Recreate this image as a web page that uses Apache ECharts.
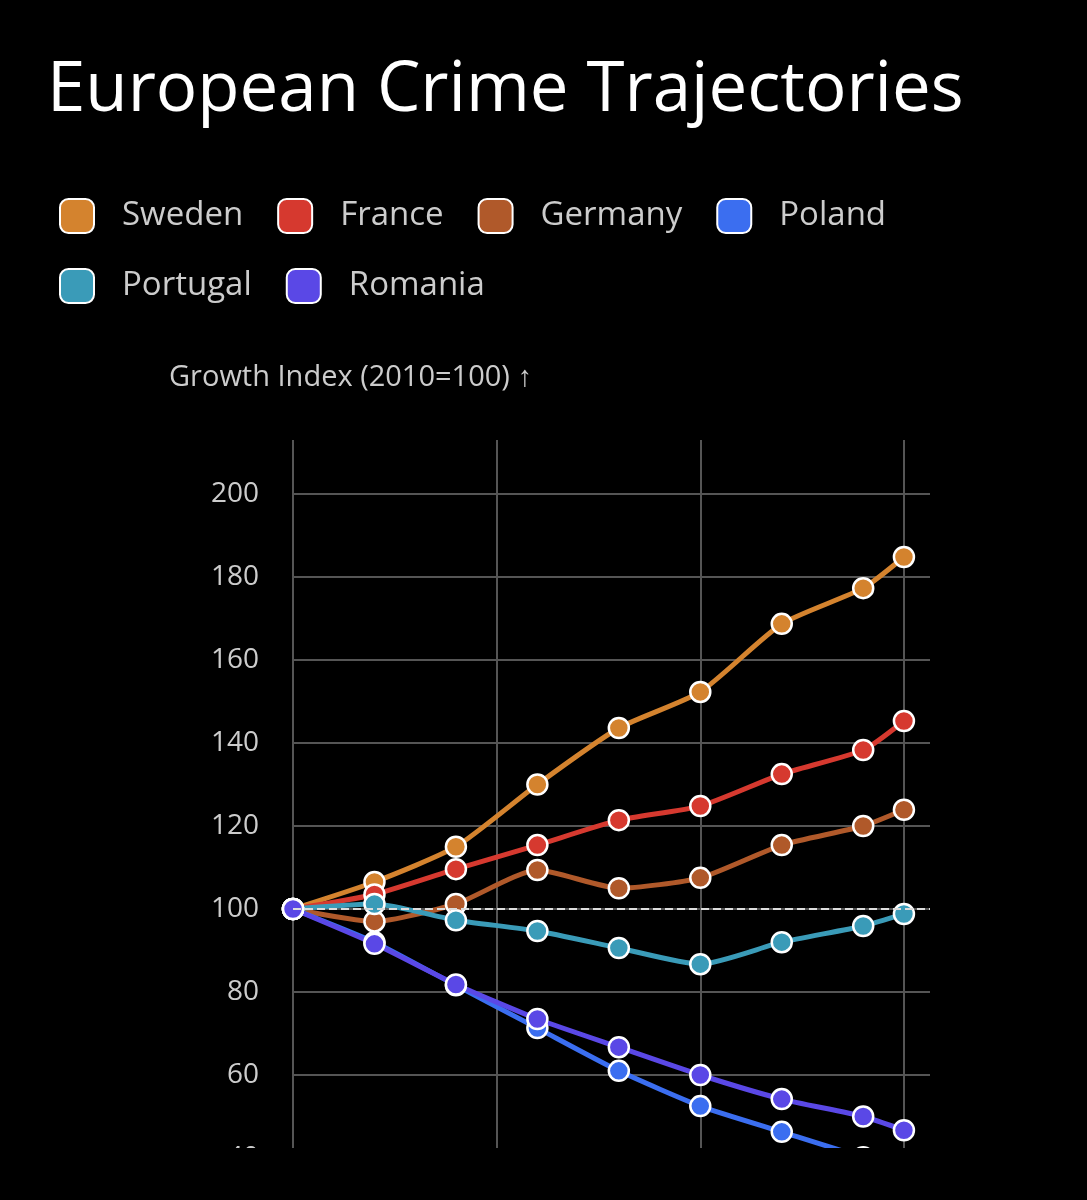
<!DOCTYPE html>
<html><head><meta charset="utf-8">
<script src="https://cdn.jsdelivr.net/npm/echarts@6/dist/echarts.min.js"></script>
<style>html,body{margin:0;background:#000;overflow:hidden;height:1200px}#wrap{height:1148px;overflow:hidden}#main{width:1087px;height:1300px}</style>
</head><body><div id="wrap"><div id="main"></div></div>
<script>
const years = [2010, 2012, 2014, 2016, 2018, 2020, 2022, 2024, 2025];
const countries = ['Sweden', 'France', 'Germany', 'Poland', 'Portugal', 'Romania'];
const colors = ['#d4832e', '#d6392f', '#b0592a', '#3b6ef0', '#3a9bb8', '#5a48e6'];
const sweden = [100, 106.5, 115, 130, 143.6, 152.3, 168.7, 177.3, 184.8];
const france = [100, 103.5, 109.6, 115.4, 121.4, 124.8, 132.5, 138.3, 145.3];
const germany = [100, 97, 101.2, 109.4, 105, 107.5, 115.4, 120, 123.9];
const poland = [100, 92, 81.6, 71.3, 61, 52.5, 46.3, 40.2, 38];
const portugal = [100, 101.2, 97.3, 94.7, 90.6, 86.7, 92, 95.9, 98.8];
const romania = [100, 91.6, 81.8, 73.5, 66.7, 60, 54.2, 50, 46.7];
const values = [sweden, france, germany, poland, portugal, romania];

const chart = echarts.init(document.getElementById('main'));
const series = countries.map((name, i) => ({
  name, type: 'line', smooth: 0.2,
  data: years.map((y, j) => [y, values[i][j]]),
  symbol: 'circle', symbolSize: 20,
  lineStyle: {width: 5, color: colors[i]},
  itemStyle: {color: colors[i], borderColor: '#fff', borderWidth: 2.5},
  z: 3
}));
series[0].markLine = {
  silent: true, symbol: 'none', label: {show: false},
  lineStyle: {color: '#ddd', type: 'dashed', width: 2},
  data: [[{coord: [2010, 100]}, {coord: [2025.64, 100]}]]
};
chart.setOption({
  backgroundColor: '#000',
  title: {text: 'European Crime Trajectories', left: 42, top: 52,
    textStyle: {color: '#fff', fontSize: 69, fontWeight: 'normal', fontFamily: 'Open Sans'}},
  legend: {data: countries, left: 54, top: 193, width: 900, itemGap: 34,
    icon: 'roundRect', itemWidth: 34, itemHeight: 34,
    textStyle: {color: '#ccc', fontSize: 33, fontFamily: 'Open Sans', padding: [0, 0, 0, 23]}},
  grid: {left: 293, right: 157, top: 440, bottom: 142},
  xAxis: {type: 'value', min: 2010, max: 2025.64, interval: 5,
    axisLine: {show: false}, axisTick: {show: false}, axisLabel: {show: false},
    splitLine: {showMaxLine: false, lineStyle: {color: '#555', width: 2}}},
  yAxis: {type: 'value', min: 40, max: 213, interval: 20,
    name: 'Growth Index (2010=100) ↑', nameLocation: 'end', nameGap: 48,
    nameTextStyle: {color: '#ccc', fontSize: 29, fontFamily: 'Open Sans', align: 'left', padding: [0, 0, 0, -124]},
    axisLine: {show: false}, axisTick: {show: false},
    axisLabel: {color: '#ccc', fontSize: 28, fontFamily: 'Open Sans', margin: 34, showMaxLabel: false},
    splitLine: {showMaxLine: false, lineStyle: {color: '#555', width: 2}}},
  series
});
</script></body></html>
